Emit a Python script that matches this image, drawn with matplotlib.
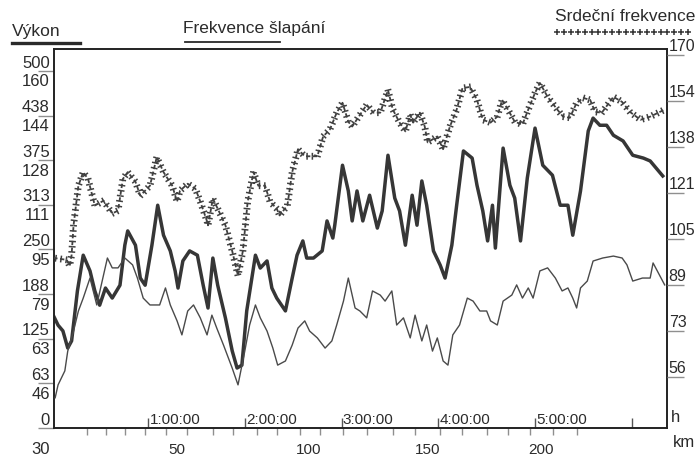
import matplotlib
matplotlib.use("Agg")
import matplotlib.pyplot as plt
from matplotlib.lines import Line2D
import matplotlib.patheffects as pe

plt.rcParams['font.family'] = ['Liberation Sans', 'DejaVu Sans']

# time axis in hours
hr_time = [0.02, 0.16, 0.19, 0.21, 0.23, 0.28, 0.33, 0.38, 0.45, 0.54, 0.63, 0.69, 0.74, 0.79, 0.87, 0.92,
           1.02, 1.09, 1.16, 1.25, 1.30, 1.33, 1.41, 1.49, 1.54, 1.61, 1.62, 1.67, 1.72, 1.80, 1.87, 1.93,
           1.98, 2.03, 2.09, 2.14, 2.21, 2.26, 2.33, 2.36, 2.44, 2.49, 2.55, 2.62, 2.75, 2.81, 2.88, 2.95,
           3.01, 3.07, 3.11, 3.17, 3.26, 3.33, 3.40, 3.48, 3.53, 3.60, 3.66, 3.71, 3.74, 3.81, 3.86, 3.89,
           3.99, 4.05, 4.12, 4.19, 4.25, 4.33, 4.40, 4.46, 4.54, 4.61, 4.66, 4.72, 4.79, 4.87, 4.93, 5.00,
           5.05, 5.13, 5.23, 5.29, 5.36, 5.43, 5.50, 5.57, 5.62, 5.69, 5.75, 5.81, 5.90, 5.98, 6.09, 6.19, 6.34]
hr_bpm = [98.3, 97.6, 95.5, 99.3, 109.8, 123.8, 128.6, 126.2, 116.8, 118.5, 114.0, 115.0, 126.2, 128.6, 125.2, 120.3,
          123.8, 133.9, 128.6, 123.8, 118.2, 122.0, 124.5, 122.7, 118.2, 111.2, 109.8, 119.2, 115.7, 109.8, 100.7, 92.0,
          100.7, 118.2, 128.6, 123.8, 123.8, 118.2, 115.7, 113.3, 116.8, 128.6, 136.7, 134.2, 134.2, 141.2, 143.7, 149.6,
          153.1, 146.4, 144.7, 147.8, 152.4, 149.6, 149.6, 157.6, 150.7, 146.1, 143.0, 148.9, 146.1, 149.6, 144.7, 139.1,
          141.2, 136.7, 144.7, 150.7, 158.3, 158.7, 154.1, 147.1, 146.1, 148.2, 154.1, 150.7, 146.4, 145.4, 150.7, 156.6,
          160.1, 155.2, 150.7, 148.2, 147.8, 153.1, 154.8, 154.1, 149.9, 149.6, 152.4, 155.2, 153.4, 149.9, 147.1, 148.2, 150.7]

power_time = [0.02, 0.07, 0.12, 0.17, 0.21, 0.27, 0.33, 0.40, 0.45, 0.50, 0.56, 0.63, 0.71, 0.76, 0.79, 0.87, 0.92,
              0.97, 1.04, 1.10, 1.16, 1.23, 1.28, 1.31, 1.36, 1.43, 1.51, 1.57, 1.62, 1.67, 1.72, 1.80, 1.87, 1.92,
              1.97, 2.02, 2.11, 2.16, 2.23, 2.28, 2.33, 2.42, 2.49, 2.54, 2.60, 2.64, 2.71, 2.80, 2.85, 2.91, 2.93,
              3.01, 3.07, 3.11, 3.16, 3.22, 3.29, 3.37, 3.42, 3.48, 3.55, 3.60, 3.66, 3.73, 3.78, 3.83, 3.88, 3.95,
              4.02, 4.07, 4.14, 4.19, 4.26, 4.35, 4.40, 4.46, 4.51, 4.56, 4.59, 4.67, 4.74, 4.79, 4.85, 4.92, 5.00,
              5.08, 5.18, 5.26, 5.34, 5.39, 5.47, 5.55, 5.60, 5.67, 5.74, 5.81, 5.91, 6.01, 6.12, 6.19, 6.32]
power_w = [158, 144, 136, 112, 122, 192, 242, 220, 192, 172, 196, 182, 200, 256, 276, 256, 210,
           200, 256, 312, 270, 248, 220, 196, 234, 248, 242, 200, 168, 238, 200, 154, 108, 84,
           88, 164, 242, 224, 234, 196, 182, 164, 210, 242, 262, 238, 238, 248, 290, 266, 284,
           368, 332, 290, 332, 290, 326, 280, 304, 382, 322, 304, 256, 326, 284, 346, 312, 248,
           228, 210, 256, 312, 388, 378, 340, 304, 262, 312, 252, 392, 340, 322, 262, 350, 420,
           368, 354, 312, 312, 270, 332, 416, 434, 424, 424, 410, 402, 382, 378, 374, 353]

cad_time = [0.04, 0.07, 0.14, 0.17, 0.23, 0.28, 0.33, 0.40, 0.47, 0.54, 0.58, 0.63, 0.69, 0.76, 0.84, 0.89, 0.95,
            1.02, 1.12, 1.18, 1.23, 1.30, 1.35, 1.41, 1.47, 1.54, 1.61, 1.66, 1.71, 1.78, 1.87, 1.93, 2.00,
            2.05, 2.11, 2.16, 2.23, 2.29, 2.34, 2.42, 2.49, 2.55, 2.62, 2.67, 2.75, 2.83, 2.90, 2.95, 3.02,
            3.07, 3.14, 3.19, 3.26, 3.32, 3.40, 3.45, 3.52, 3.57, 3.64, 3.71, 3.76, 3.83, 3.88, 3.94, 3.99,
            4.05, 4.10, 4.15, 4.22, 4.30, 4.36, 4.43, 4.50, 4.54, 4.61, 4.67, 4.76, 4.81, 4.87, 4.93, 4.98,
            5.05, 5.13, 5.21, 5.28, 5.34, 5.39, 5.43, 5.47, 5.54, 5.60, 5.70, 5.81, 5.90, 5.95, 6.01, 6.11,
            6.19, 6.22, 6.34]
cad_rpm = [41.0, 45.7, 50.8, 58.0, 65.3, 72.6, 77.3, 84.6, 74.8, 85.7, 91.9, 88.3, 88.3, 91.9, 89.4, 84.6, 77.3,
           74.8, 74.8, 81.0, 74.8, 69.0, 63.9, 72.6, 74.8, 70.1, 63.9, 71.1, 66.4, 60.2, 51.8, 45.7, 58.0,
           67.5, 74.8, 70.1, 65.3, 59.1, 52.9, 54.4, 60.2, 66.4, 69.0, 65.3, 62.8, 59.1, 61.7, 67.5, 76.2,
           84.6, 73.7, 72.6, 70.1, 79.9, 78.4, 76.2, 79.9, 67.5, 70.1, 62.8, 71.1, 61.7, 67.5, 58.0, 62.8,
           54.4, 52.9, 63.9, 67.5, 77.3, 76.2, 72.6, 72.6, 69.0, 67.5, 76.2, 78.4, 82.1, 77.3, 81.0, 77.3,
           87.2, 88.3, 84.6, 79.9, 81.0, 77.3, 73.7, 81.0, 83.5, 90.8, 91.9, 92.6, 91.9, 89.4, 83.5, 84.6,
           84.6, 90.1, 82.1]

power_ticks = [0, 62.5, 125, 187.5, 250, 312.5, 375, 437.5, 500]
power_labels = ['0', '63', '125', '188', '250', '313', '375', '438', '500']
cad_ticks = [30, 46.25, 62.5, 78.75, 95, 111.25, 127.5, 143.75, 160]
cad_labels = ['30', '46', '63', '79', '95', '111', '128', '144', '160']
hr_ticks = [56.25, 72.5, 88.75, 105, 121.25, 137.5, 153.75, 170]
hr_labels = ['56', '73', '89', '105', '121', '138', '154', '170']
time_ticks = [1, 2, 3, 4, 5, 6]
time_labels = ['1:00:00', '2:00:00', '3:00:00', '4:00:00', '5:00:00', '']
km_pos_h = [1.30, 2.655, 3.894, 5.062]
km_labels = ['50', '100', '150', '200']
km_minor_h = [0.366, 0.563, 0.759, 0.966, 1.183, 1.400, 1.669, 1.876, 2.124, 2.331, 2.569, 2.775,
              3.013, 3.262, 3.530, 3.758, 4.017, 4.244, 4.503, 4.720, 4.948, 5.186, 5.434]

W, H = 696, 463
txt = '#2b2b2b'
tick_c = '#8f8f8f'
fs = 12

fig = plt.figure(figsize=(W / 100, H / 100), dpi=100)
ax = fig.add_axes([54 / W, 1 - 428 / H, 613 / W, 379 / H])
ax.set_xlim(0.028, 6.364)
ax.set_ylim(0, 530.8)
axc = ax.twinx()
axc.set_ylim(30, 168.0)
axh = ax.twinx()
axh.set_ylim(38.2, 172.1)

# lines
ax.plot(power_time, power_w, color='#363636', lw=2.5, solid_joinstyle='round')
axc.plot(cad_time, cad_rpm, color='#4a4a4a', lw=1.0)
# heart rate drawn as a chain of small crosses
hr_fx = [pe.TickedStroke(spacing=3.8, angle=90, length=0.65, linewidth=1.1),
         pe.TickedStroke(spacing=3.8, angle=-90, length=0.65, linewidth=1.1)]
axh.plot(hr_time, hr_bpm, color='#404040', lw=1.3, ls=(0, (2.4, 1.4)), path_effects=hr_fx + [pe.Normal()])

for a in (axc, axh):
    for s in a.spines.values():
        s.set_visible(False)
for s in ax.spines.values():
    s.set_linewidth(1.4)
    s.set_color('#222222')

# left ticks (power above, cadence below)
ax.set_yticks(power_ticks)
ax.tick_params(axis='y', direction='out', length=11.5, width=1, color=tick_c, labelleft=False)
axc.set_yticks([])
for p, lab in zip(power_ticks, power_labels):
    ax.annotate(lab, xy=(0, p), xycoords=ax.get_yaxis_transform(), xytext=(-3, 2.5),
                textcoords='offset points', ha='right', va='baseline', fontsize=fs, color=txt)
for c, lab in zip(cad_ticks, cad_labels):
    dy = -10 if lab == '30' else -2.5
    axc.annotate(lab, xy=(0, c), xycoords=axc.get_yaxis_transform(), xytext=(-3, dy),
                 textcoords='offset points', ha='right', va='top', fontsize=fs, color=txt)

# right ticks (heart rate)
axh.set_yticks(hr_ticks)
axh.tick_params(axis='y', direction='out', length=12, width=1, color=tick_c, labelright=False)
for h, lab in zip(hr_ticks, hr_labels):
    axh.annotate(lab, xy=(1, h), xycoords=axh.get_yaxis_transform(), xytext=(1.2, 2.5),
                 textcoords='offset points', ha='left', va='baseline', fontsize=11.5, color=txt)

# bottom: time ticks inside, km ticks outside
ax.set_xticks(time_ticks)
ax.set_xticks(km_minor_h, minor=True)
ax.tick_params(axis='x', which='major', direction='in', length=7, width=1, color='#555555', labelbottom=False)
ax.tick_params(axis='x', which='minor', direction='out', length=5, width=1, color=tick_c)
for t, lab in zip(time_ticks, time_labels):
    ax.annotate(lab, xy=(t, 0), xycoords=ax.get_xaxis_transform(), xytext=(1, 3),
                textcoords='offset points', ha='left', va='baseline', fontsize=11, color=txt)
for k, lab in zip(km_pos_h, km_labels):
    ax.annotate(lab, xy=(k, 0), xycoords=ax.get_xaxis_transform(), xytext=(0, -11),
                textcoords='offset points', ha='center', va='top', fontsize=11, color=txt)
ax.annotate('h', xy=(1, 0), xycoords='axes fraction', xytext=(3, 4),
            textcoords='offset points', ha='left', va='baseline', fontsize=fs, color=txt)
ax.annotate('km', xy=(1, 0), xycoords='axes fraction', xytext=(4, -14),
            textcoords='offset points', ha='left', va='baseline', fontsize=fs, color=txt)

# series names on top
fig.text(12 / W, 1 - 36 / H, 'Výkon', fontsize=12.5, color=txt, va='baseline')
fig.add_artist(Line2D([12 / W, 80 / W], [1 - 42.5 / H] * 2, lw=2.4, color='#2a2a2a'))
fig.text(183 / W, 1 - 33 / H, 'Frekvence šlapání', fontsize=12.5, color=txt, va='baseline')
fig.add_artist(Line2D([185 / W, 280 / W], [1 - 41.5 / H] * 2, lw=1.3, color='#2a2a2a'))
fig.text(555 / W, 1 - 21 / H, 'Srdeční frekvence', fontsize=12.5, color=txt, va='baseline')
leg_x = [(557 + 6.9 * i) / W for i in range(20)]
fig.add_artist(Line2D(leg_x, [1 - 32 / H] * 20, lw=0, marker='+', ms=4, mew=1.1, color='#333333'))

fig.savefig('out.png', dpi=100)
